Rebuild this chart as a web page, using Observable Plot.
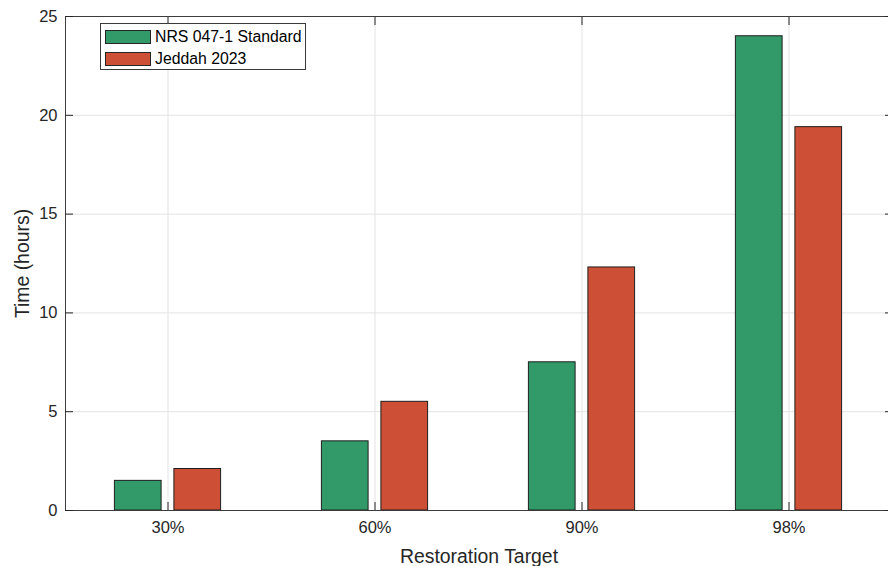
<!DOCTYPE html>
<html>
<head>
<meta charset="utf-8">
<script src="https://cdn.jsdelivr.net/npm/d3@7"></script>
<script src="https://cdn.jsdelivr.net/npm/@observablehq/plot@0.6"></script>
<style>
html, body { margin: 0; padding: 0; background: #fff; overflow: hidden; }
#wrap { position: relative; width: 888px; height: 566px; font-family: "Liberation Sans", Arial, sans-serif; }
#wrap svg [aria-label$="tick label"] { font-size: 16.5px; }
#wrap svg [aria-label="x-axis label"], #wrap svg [aria-label="y-axis label"] { font-size: 19.4px; }
#legend { position: absolute; left: 100px; top: 23px; width: 206px; height: 47px; box-sizing: border-box;
  border: 1px solid #3a3a3a; background: #fff; font-size: 15.8px; color: #000; }
#legend .item { position: absolute; left: 4px; height: 15px; display: flex; align-items: center; }
#legend .sw { width: 46px; height: 14px; box-sizing: border-box; border: 1px solid #262626; margin-right: 4px; }
</style>
</head>
<body>
<div id="wrap"><div id="legend"></div></div>
<script>
const categories = ["30%", "60%", "90%", "98%"];
const seriesNames = ["NRS 047-1 Standard", "Jeddah 2023"];
const nrsValues = [1.5, 3.5, 7.5, 24.0];
const jeddahValues = [2.1, 5.5, 12.3, 19.4];
const yTicks = [0, 5, 10, 15, 20, 25];
const colors = ["#329a68", "#cd4f35"];

const nrs = categories.map((c, i) => ({category: c, value: nrsValues[i]}));
const jeddah = categories.map((c, i) => ({category: c, value: jeddahValues[i]}));

const axisColor = "#262626";
const gridColor = "#e3e3e3";

const chart = Plot.plot({
  width: 888,
  height: 566,
  marginLeft: 65,
  marginRight: -4,
  marginTop: 16,
  marginBottom: 56,
  style: {fontFamily: "'Liberation Sans', Arial, sans-serif", fontSize: "16px", color: axisColor, background: "#fff"},
  x: {type: "band", domain: categories, range: [62.3, 893.5], paddingInner: 0, paddingOuter: 0},
  y: {domain: [0, 25]},
  marks: [
    Plot.gridY(yTicks, {stroke: gridColor, strokeOpacity: 1}),
    Plot.gridX(categories, {stroke: gridColor, strokeOpacity: 1}),
    Plot.barY(nrs, {x: "category", y: "value", fill: colors[0], stroke: "#1e1e1e", strokeWidth: 1, insetLeft: 50.4, insetRight: 109.9}),
    Plot.barY(jeddah, {x: "category", y: "value", fill: colors[1], stroke: "#1e1e1e", strokeWidth: 1, insetLeft: 109.9, insetRight: 50.4}),
    Plot.frame({stroke: "#3c3c3c", strokeWidth: 1}),
    Plot.axisY(yTicks, {tickSize: 0, tickPadding: 8, fill: axisColor, label: "Time (hours)", labelAnchor: "center", labelOffset: 50, labelArrow: "none"}),
    Plot.axisY(yTicks, {anchor: "left", tickSize: -8, tickFormat: () => "", label: null, stroke: axisColor}),
    Plot.axisY(yTicks, {anchor: "right", tickSize: -8, tickFormat: () => "", label: null, stroke: axisColor}),
    Plot.axisX(categories, {tickSize: 0, tickPadding: 11, fill: axisColor, label: "Restoration Target", labelAnchor: "center", labelOffset: 52, labelArrow: "none"}),
    Plot.axisX(categories, {anchor: "bottom", tickSize: -8, tickFormat: () => "", label: null, stroke: axisColor}),
    Plot.axisX(categories, {anchor: "top", tickSize: -8, tickFormat: () => "", label: null, stroke: axisColor})
  ]
});
chart.style.position = "absolute";
chart.style.left = "0";
chart.style.top = "0";
const wrap = document.getElementById("wrap");
wrap.insertBefore(chart, wrap.firstChild);

const legend = document.getElementById("legend");
seriesNames.forEach((name, i) => {
  const item = document.createElement("div");
  item.className = "item";
  item.style.top = (i === 0 ? 5 : 27) + "px";
  const sw = document.createElement("div");
  sw.className = "sw";
  sw.style.background = colors[i];
  const t = document.createElement("span");
  t.textContent = name;
  item.appendChild(sw);
  item.appendChild(t);
  legend.appendChild(item);
});
</script>
</body>
</html>
